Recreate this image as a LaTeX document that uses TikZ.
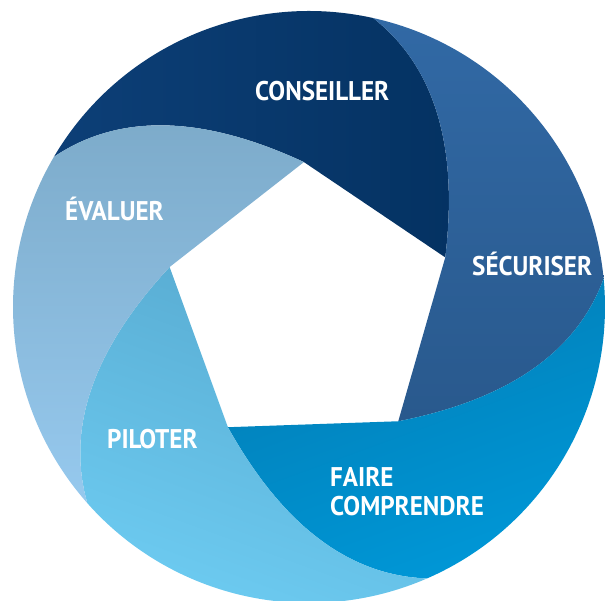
\documentclass[tikz,border=0pt]{standalone}
\usepackage{fontspec}
\newfontfamily\lblfont{PT Sans}[FakeStretch=0.93]
\definecolor{conL}{HTML}{0D3F77}
\definecolor{conR}{HTML}{043262}
\definecolor{secT}{HTML}{3169A5}
\definecolor{secB}{HTML}{29598D}
\definecolor{faiL}{HTML}{017DB5}
\definecolor{faiR}{HTML}{0098D8}
\definecolor{pilT}{HTML}{58ABD1}
\definecolor{pilB}{HTML}{6ECDF3}
\definecolor{evaT}{HTML}{7CAAC9}
\definecolor{evaB}{HTML}{96C9EE}
\tikzset{
  lbl/.style={text=white, font=\lblfont\bfseries\fontsize{27}{29}\selectfont, inner sep=0pt, anchor=base west},
  blade/.style={draw=none}
}
% #1 = angle of the blade's first pentagon vertex, #2 = shading options
\newcommand\blade[2]{%
  \shade[blade,#2] (#1:145) -- ({#1-72}:145)
    .. controls ({#1-47.2}:208.6) and ({#1-31.5}:270) .. ({#1-14.5}:296)
    arc[start angle={#1-14.5}, end angle={#1+57.5}, radius=296]
    .. controls ({#1+40.5}:270) and ({#1+24.8}:208.6) .. (#1:145) -- cycle;}
\begin{document}
\begin{tikzpicture}[x=1pt,y=1pt]
\useasboundingbox (-309,307) rectangle (297,-294);
\blade{92}{left color=conL, right color=conR}
\blade{20}{top color=secT, bottom color=secB}
\blade{-52}{left color=faiL, right color=faiR, shading angle=20}
\blade{-124}{top color=pilT, bottom color=pilB, shading angle=-20}
\blade{164}{top color=evaT, bottom color=evaB}
\node[lbl] (conseiller) at (-54,206) {CONSEILLER};
\node[lbl] (evaluer) at (-244,86) {ÉVALUER};
\node[lbl] (securiser) at (163,31) {SÉCURISER};
\node[lbl] (piloter) at (-202,-142) {PILOTER};
\node[lbl] (faire) at (21,-180) {FAIRE};
\node[lbl] (comprendre) at (21,-209) {COMPRENDRE};
\end{tikzpicture}
\end{document}
